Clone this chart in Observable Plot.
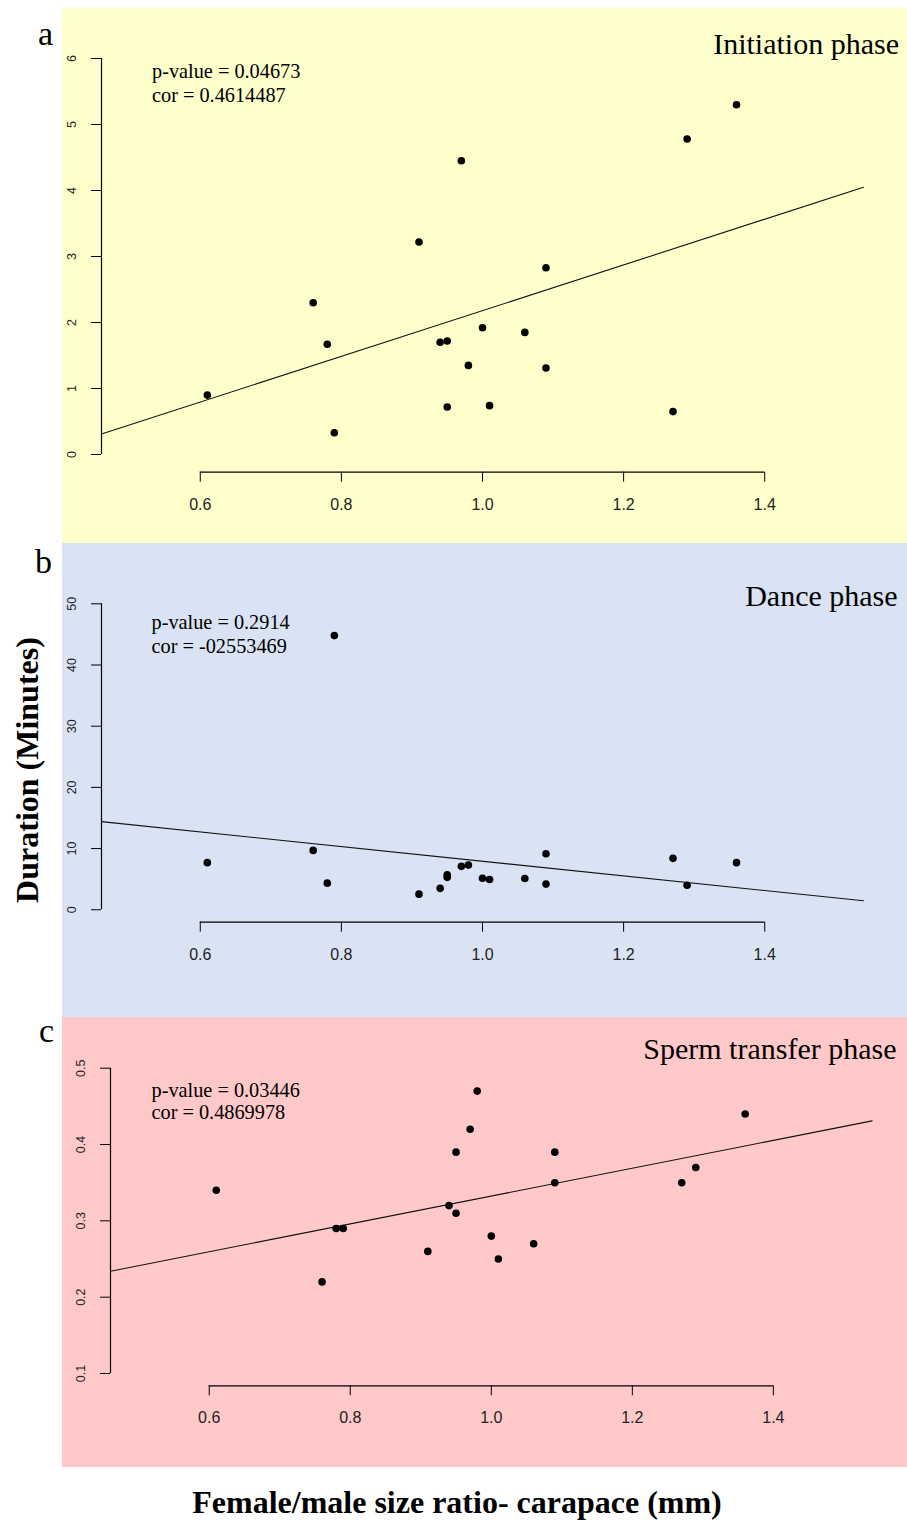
<!DOCTYPE html>
<html><head><meta charset="utf-8">
<script src="https://cdn.jsdelivr.net/npm/d3@7"></script>
<script src="https://cdn.jsdelivr.net/npm/@observablehq/plot@0.6"></script>
<style>
html,body{margin:0;padding:0;background:#fff;}
#page{position:relative;width:907px;height:1524px;overflow:hidden;background:#fff;}
#page svg.panel{position:absolute;left:62px;}
#overlay{position:absolute;left:0;top:0;pointer-events:none;}
</style></head><body><div id="page"></div>
<script>
// Female/male size ratio (carapace) for each pair
const ratio      = [0.61, 0.76, 0.78, 0.79, 0.91, 0.94, 0.95, 0.95, 0.97, 0.98, 1.00, 1.01, 1.06, 1.09, 1.09, 1.27, 1.29, 1.36];
// Duration (minutes) per phase, same order as ratio
const initiation = [0.90, 2.30, 1.67, 0.33, 3.22, 1.70, 1.72, 0.72, 4.45, 1.35, 1.92, 0.74, 1.85, 2.83, 1.31, 0.65, 4.78, 5.30];
const dance      = [7.7, 9.7, 4.35, 44.8, 2.55, 3.5, 5.7, 5.3, 7.1, 7.3, 5.15, 4.95, 5.1, 9.15, 4.2, 8.4, 4.0, 7.7];
const sperm      = [0.34, 0.22, 0.29, 0.29, 0.26, 0.32, 0.39, 0.31, 0.42, 0.47, 0.28, 0.25, 0.27, 0.39, 0.35, 0.35, 0.37, 0.44];

// fitted regression lines (ends at the plot region edges)
const fitX  = [0.46, 1.54];
const fitA  = [0.31, 4.05];
const fitB  = [14.4, 1.47];
const fitC  = [0.234, 0.431];

const xTicks  = [0.6, 0.8, 1.0, 1.2, 1.4];
const yTicksA = [0, 1, 2, 3, 4, 5, 6];
const yTicksB = [0, 10, 20, 30, 40, 50];
const yTicksC = [0.1, 0.2, 0.3, 0.4, 0.5];

const letters = ["a", "b", "c"];
const titles  = ["Initiation phase", "Dance phase", "Sperm transfer phase"];
const pvalues = ["p-value = 0.04673", "p-value = 0.2914", "p-value = 0.03446"];
const cors    = ["cor = 0.4614487", "cor = -02553469", "cor = 0.4869978"];
const yTitle  = "Duration (Minutes)";
const xTitle  = "Female/male size ratio- carapace (mm)";

const panels = [
  {top: 8, height: 535, bg: "#FFFFCC", mL: 39, mR: 44, mT: 50, mB: 71.3, yDomain: [-0.268, 6], yTicks: yTicksA, ys: initiation, fit: fitA, fmt: d3.format("d"),
   letter: [38, 45], title: [899, 53.5], stats: [152, 78.3, 101.7]},
  {top: 543, height: 474, bg: "#DAE3F3", mL: 39, mR: 44, mT: 60.3, mB: 95.3, yDomain: [-2.03, 50], yTicks: yTicksB, ys: dance, fit: fitB, fmt: d3.format("d"),
   letter: [35, 573], title: [897.6, 605.7], stats: [151.5, 629.3, 653.3]},
  {top: 1017, height: 450, bg: "#FFC9C9", mL: 48, mR: 35.4, mT: 50.7, mB: 81.7, yDomain: [0.0839, 0.5], yTicks: yTicksC, ys: sperm, fit: fitC, fmt: d3.format(".1f"),
   letter: [39, 1042], title: [896.5, 1059.3], stats: [151.5, 1097.3, 1119]}
];

const page = document.getElementById("page");
const xDomain = [fitX[0], fitX[1]];

panels.forEach((p, i) => {
  const pts = ratio.map((x, k) => ({x, y: p.ys[k]}));
  const line = fitX.map((x, k) => ({x, y: p.fit[k]}));
  const svg = Plot.plot({
    width: 845, height: p.height,
    marginLeft: p.mL, marginRight: p.mR, marginTop: p.mT, marginBottom: p.mB,
    x: {domain: xDomain},
    y: {domain: p.yDomain},
    style: {background: p.bg, color: "black", fontFamily: "'Liberation Sans', Arial, sans-serif"},
    marks: [
      Plot.ruleY([p.yDomain[0]], {x1: xTicks[0], x2: xTicks[xTicks.length - 1], stroke: "black", strokeWidth: 1.2}),
      Plot.ruleX([xDomain[0]], {y1: p.yTicks[0], y2: p.yTicks[p.yTicks.length - 1], stroke: "black", strokeWidth: 1.2}),
      Plot.axisX({ticks: xTicks, tickSize: 10, tickPadding: 16, tickFormat: d3.format(".1f"), fontSize: 16, label: null, stroke: "black", fill: "#222"}),
      Plot.axisY({ticks: p.yTicks, tickSize: 10, tickPadding: 16, tickRotate: -90, tickFormat: p.fmt, fontSize: 12.5, label: null, stroke: "black", fill: "#222"}),
      Plot.line(line, {x: "x", y: "y", stroke: "#111", strokeWidth: 1.1}),
      Plot.dot(pts, {x: "x", y: "y", r: 3.8, fill: "black", stroke: "none"})
    ]
  });
  svg.classList.add("panel");
  svg.style.top = p.top + "px";
  page.appendChild(svg);
});

// overlay text
const ov = d3.select(page).append("svg").attr("id", "overlay").attr("width", 907).attr("height", 1524);
const serif = "'Liberation Serif', 'Times New Roman', serif";
panels.forEach((p, i) => {
  ov.append("text").attr("x", p.letter[0]).attr("y", p.letter[1]).attr("font-family", serif).attr("font-size", 34).text(letters[i]);
  ov.append("text").attr("x", p.title[0]).attr("y", p.title[1]).attr("text-anchor", "end").attr("font-family", serif).attr("font-size", 30).text(titles[i]);
  ov.append("text").attr("x", p.stats[0]).attr("y", p.stats[1]).attr("font-family", serif).attr("font-size", 20.3).text(pvalues[i]);
  ov.append("text").attr("x", p.stats[0]).attr("y", p.stats[2]).attr("font-family", serif).attr("font-size", 20.3).text(cors[i]);
});
ov.append("text").attr("transform", "translate(37.6,770) rotate(-90)").attr("text-anchor", "middle")
  .attr("font-family", serif).attr("font-weight", "bold").attr("font-size", 32).text(yTitle);
ov.append("text").attr("x", 457).attr("y", 1513).attr("text-anchor", "middle")
  .attr("font-family", serif).attr("font-weight", "bold").attr("font-size", 32).text(xTitle);
</script>
</body></html>
